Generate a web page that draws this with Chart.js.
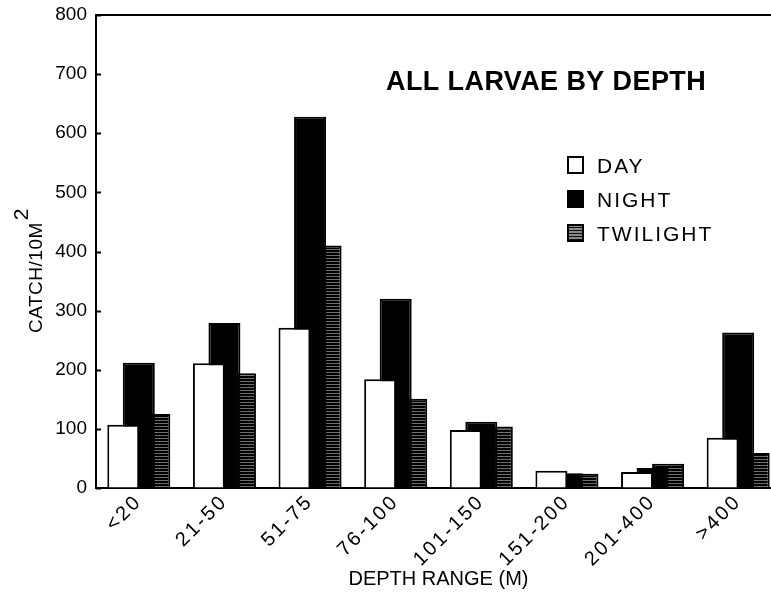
<!DOCTYPE html>
<html>
<head>
<meta charset="utf-8">
<script src="https://cdn.jsdelivr.net/npm/chart.js@4.4.0/dist/chart.umd.min.js"></script>
<style>
  html, body { margin: 0; padding: 0; background: #fff; overflow: hidden; }
  #wrap { width: 790px; height: 593px; }
</style>
</head>
<body>
<div id="wrap"><canvas id="depthChart" width="790" height="593"></canvas></div>
<script>
// Larval catch per 10 m^2 by depth range and time of day
var depthRanges = ['<20', '21-50', '51-75', '76-100', '101-150', '151-200', '201-400', '>400'];
var dayCatch = [107, 211, 271, 184, 98, 29, 27, 85];
var nightCatch = [212, 279, 628, 320, 112, 25, 34, 263];
var twilightCatch = [125, 194, 410, 151, 104, 24, 41, 59];
var catchTicks = [0, 100, 200, 300, 400, 500, 600, 700, 800];

var plain = "'Liberation Sans', Arial, sans-serif";

// striped fill for the twilight bars
function stripes(light, dark, rows) {
  var c = document.createElement('canvas');
  c.width = 4;
  c.height = rows.length;
  var g = c.getContext('2d');
  rows.forEach(function (isLight, i) {
    g.fillStyle = isLight ? light : dark;
    g.fillRect(0, i, 4, 1);
  });
  return g.createPattern(c, 'repeat');
}
var ctx = document.getElementById('depthChart').getContext('2d');
var twilightFill = stripes('#6e6e6e', '#000', [true, false, false]);
var twilightKey = stripes('#888', '#111', [true, true, false]);

// x tick labels are drawn after the bars (ticks.z = 1), spaced out a little
var decor = {
  id: 'decor',
  afterDatasetsDraw: function (chart) {
    chart.ctx.letterSpacing = '2.5px';
  },
  afterDraw: function (chart) {
    var c = chart.ctx;
    var area = chart.chartArea;
    var y = chart.scales.y;
    c.letterSpacing = '0px';
    c.save();
    c.strokeStyle = '#000';
    c.lineWidth = 2;
    c.beginPath();
    c.moveTo(area.left, area.top);
    c.lineTo(area.right, area.top);
    catchTicks.forEach(function (v) {
      var py = Math.round(y.getPixelForValue(v)) + 0.5;
      c.moveTo(area.left, py);
      c.lineTo(area.left + 5, py);
    });
    c.stroke();

    c.fillStyle = '#000';
    c.textBaseline = 'alphabetic';
    c.textAlign = 'left';

    // chart title
    c.font = 'bold 27px ' + plain;
    c.letterSpacing = '0.4px';
    c.fillText('ALL LARVAE BY DEPTH', 386, 90);

    // legend
    c.font = '21px ' + plain;
    c.letterSpacing = '2px';
    var keys = [
      { label: 'DAY', fill: '#fff', top: 157 },
      { label: 'NIGHT', fill: '#000', top: 191 },
      { label: 'TWILIGHT', fill: twilightKey, top: 225 }
    ];
    c.lineWidth = 2;
    keys.forEach(function (k) {
      c.fillStyle = k.fill;
      c.fillRect(568, k.top, 15, 16);
      c.strokeRect(568, k.top, 15, 16);
      c.fillStyle = '#000';
      c.fillText(k.label, 597, k.top + 16);
    });

    // x axis title
    c.font = '20px ' + plain;
    c.letterSpacing = '0px';
    c.textAlign = 'center';
    c.fillText('DEPTH RANGE (M)', (area.left + area.right) / 2, 585);

    // y axis title with superscript
    c.translate(42, 333);
    c.rotate(-Math.PI / 2);
    c.textAlign = 'left';
    c.font = '19px ' + plain;
    c.letterSpacing = '0.5px';
    c.fillText('CATCH/10M', 0, 0);
    var w = c.measureText('CATCH/10M').width;
    c.font = '21px ' + plain;
    c.fillText('2', w + 2, -14);
    c.restore();
  }
};

new Chart(ctx, {
  type: 'bar',
  data: {
    labels: depthRanges,
    datasets: [
      { label: 'DAY', data: dayCatch, backgroundColor: '#fff', borderColor: '#000', borderWidth: 2 },
      { label: 'NIGHT', data: nightCatch, backgroundColor: '#000', borderColor: '#000', borderWidth: 2 },
      { label: 'TWILIGHT', data: twilightCatch, backgroundColor: twilightFill, borderColor: '#000', borderWidth: 2 }
    ]
  },
  options: {
    responsive: false,
    animation: false,
    layout: { padding: { top: 15, right: 9, left: 0, bottom: 0 } },
    datasets: {
      bar: { categoryPercentage: 0.544, barPercentage: 2.06 }
    },
    plugins: {
      legend: { display: false },
      tooltip: { enabled: false }
    },
    scales: {
      x: {
        grid: { display: false, drawTicks: false },
        border: { display: true, color: '#000', width: 2 },
        ticks: {
          z: 1,
          color: '#000',
          font: { family: plain, size: 20 },
          maxRotation: 45,
          minRotation: 45,
          autoSkip: false,
          padding: 2
        },
        afterFit: function (s) { s.height = 105; }
      },
      y: {
        min: 0,
        max: 800,
        grid: { drawOnChartArea: false, drawTicks: false },
        border: { display: true, color: '#000', width: 2 },
        ticks: {
          stepSize: 100,
          color: '#000',
          font: { family: plain, size: 19 },
          padding: 9
        },
        afterFit: function (s) {
          s.width = 96;
          s.paddingTop = 0;
          s.paddingBottom = 0;
        }
      }
    }
  },
  plugins: [decor]
});
</script>
</body>
</html>
